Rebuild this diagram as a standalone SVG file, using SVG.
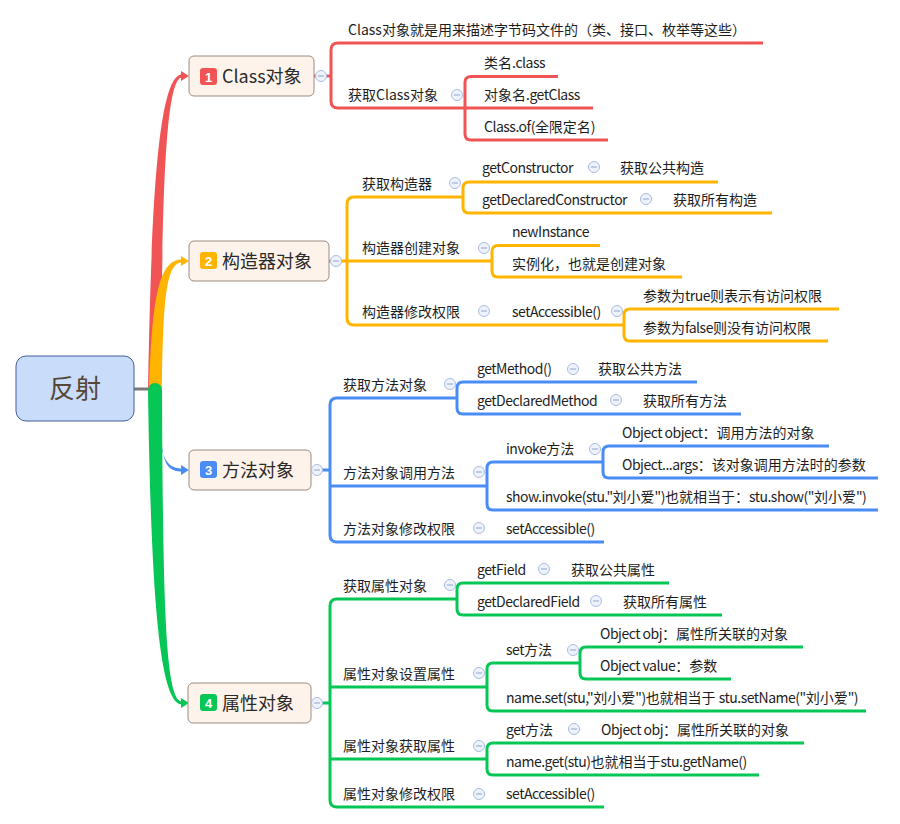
<svg xmlns="http://www.w3.org/2000/svg" width="900" height="824" viewBox="0 0 900 824">
<style>
.t{font-family:"Noto Sans CJK SC","Noto Sans",sans-serif;font-size:14px;fill:#1e1e1e}
.l{letter-spacing:-0.5px}
.h{font-family:"Noto Sans CJK SC","Noto Sans",sans-serif;font-size:18px;fill:#2a2a2a}
.k{font-family:"Liberation Sans","Noto Sans",sans-serif;font-size:13px;font-weight:bold;fill:#fff;text-anchor:middle}
.box{fill:#fdf3ea;stroke:#9a8c82;stroke-width:1}
.ln{fill:none;stroke-width:3}
.red{stroke:#f05454}.org{stroke:#ffb400}.blu{stroke:#4a8cf5}.grn{stroke:#06c755}
.cc circle{fill:#eef2fb;stroke:#aabde3;stroke-width:1}
.cc path{stroke:#8ea3d2;stroke-width:1}
</style>
<defs>
<g id="cl" class="cc"><circle r="5.5"/><path d="M-3,0H3"/></g>
</defs>
<rect width="900" height="824" fill="#ffffff"/>

<g id="connectors">
  <line x1="134" y1="389" x2="156" y2="389" stroke="#7a7a7a" stroke-width="3"/>
  <path fill="#f05454" d="M148,392 C151,220 157,74.5 182,74.5 L182,77.5 C164,77.5 162,220 161,392 Z"/>
  <path fill="#f05454" d="M181,71 L189,76 L181,81 Z"/>
  <path fill="#ffb400" d="M149,392 C152,300 158,259.5 182,259.5 L182,262.5 C166,262.5 163,300 162,392 Z"/>
  <path fill="#ffb400" d="M181,256 L189,261 L181,266 Z"/>
  <path fill="#4a8cf5" d="M155,392 C158,455 165,468.5 182,468.5 L182,471.5 C162,471.5 160,455 161,392 Z"/>
  <path fill="#4a8cf5" d="M181,465 L189,470 L181,475 Z"/>
  <path fill="#06c755" d="M148,390 C151,600 160,704.5 182,704.5 L182,701.5 C165,701.5 163,600 162,390 Z"/>
  <ellipse cx="155" cy="390" rx="7" ry="7" fill="#06c755"/>
  <path fill="#06c755" d="M181,698 L189,703 L181,708 Z"/>

  <path class="ln red" d="M314,76 H331"/>
  <path class="ln red" d="M763,43 H338 Q331,43 331,50 V101 Q331,108 338,108 H465"/>
  <path class="ln red" d="M558,76.5 H471 Q465,76.5 465,82.5 V134 Q465,140 471,140 H608 M465,108 H593"/>

  <path class="ln org" d="M329,261 H492"/>
  <path class="ln org" d="M463,197 H354 Q347,197 347,204 V318 Q347,325 354,325 H624"/>
  <path class="ln org" d="M718,182 H469 Q463,182 463,188 V207 Q463,213 469,213 H772"/>
  <path class="ln org" d="M600,245.5 H498 Q492,245.5 492,251.5 V271 Q492,277 498,277 H682"/>
  <path class="ln org" d="M839,309 H630 Q624,309 624,315 V335 Q624,341 630,341 H828"/>

  <path class="ln blu" d="M311,470 H330 M330,486 H487"/>
  <path class="ln blu" d="M457,398 H337 Q330,398 330,405 V535 Q330,542 337,542 H604"/>
  <path class="ln blu" d="M697,382 H463 Q457,382 457,388 V408 Q457,414 463,414 H741"/>
  <path class="ln blu" d="M603,462 H493 Q487,462 487,468 V504 Q487,510 493,510 H878"/>
  <path class="ln blu" d="M829,446 H609 Q603,446 603,452 V472 Q603,478 609,478 H878"/>

  <path class="ln grn" d="M311,703 H330 M330,687 H487 M330,759 H487"/>
  <path class="ln grn" d="M457,599 H337 Q330,599 330,606 V800 Q330,807 337,807 H604"/>
  <path class="ln grn" d="M669,583 H463 Q457,583 457,589 V609 Q457,615 463,615 H722"/>
  <path class="ln grn" d="M580,663 H493 Q487,663 487,669 V705 Q487,711 493,711 H866"/>
  <path class="ln grn" d="M803,647 H586 Q580,647 580,653 V673 Q580,679 586,679 H731"/>
  <path class="ln grn" d="M804,743 H493 Q487,743 487,749 V769 Q487,775 493,775 H759"/>
</g>

<g id="root">
  <rect x="16" y="356" width="118" height="65" rx="10" fill="#c9dcf9" stroke="#45609a" stroke-width="1"/>
  <text x="75" y="398" text-anchor="middle" style="font-family:'Noto Sans CJK SC',sans-serif;font-size:26px;fill:#554636">反射</text>
</g>

<g id="n1">
  <rect class="box" x="189" y="56" width="125" height="40" rx="5"/>
  <rect x="200" y="68" width="17" height="17" rx="3" fill="#f05454"/>
  <text class="k" x="208.5" y="81.5">1</text>
  <text class="h" x="222" y="82.5">Class对象</text>
  <use href="#cl" x="321" y="76"/>
</g>
<g id="n1-1"><text class="t" x="348" y="35">Class对象就是用来描述字节码文件的（类、接口、枚举等这些）</text></g>
<g id="n1-2"><text class="t" x="348" y="100">获取Class对象</text><use href="#cl" x="457" y="95"/></g>
<g id="n1-2-1"><text class="t" x="484" y="68">类名<tspan class="l">.class</tspan></text></g>
<g id="n1-2-2"><text class="t" x="484" y="100">对象名<tspan class="l">.getClass</tspan></text></g>
<g id="n1-2-3"><text class="t" x="484" y="132"><tspan class="l">Class.of(</tspan>全限定名)</text></g>

<g id="n2">
  <rect class="box" x="189" y="241" width="140" height="40" rx="5"/>
  <rect x="200" y="252" width="17" height="17" rx="3" fill="#ffb400"/>
  <text class="k" x="208.5" y="265.5">2</text>
  <text class="h" x="222" y="267.5">构造器对象</text>
  <use href="#cl" x="336" y="261"/>
</g>
<g id="n2-1"><text class="t" x="362" y="189">获取构造器</text><use href="#cl" x="455" y="183"/></g>
<g id="n2-1-1"><text class="t l" x="482" y="173">getConstructor</text><use href="#cl" x="594" y="167"/></g>
<g id="n2-1-1-1"><text class="t" x="620" y="173">获取公共构造</text></g>
<g id="n2-1-2"><text class="t l" x="482" y="205">getDeclaredConstructor</text><use href="#cl" x="646" y="199"/></g>
<g id="n2-1-2-1"><text class="t" x="673" y="205">获取所有构造</text></g>
<g id="n2-2"><text class="t" x="362" y="253">构造器创建对象</text><use href="#cl" x="484" y="248"/></g>
<g id="n2-2-1"><text class="t l" x="512" y="237">newInstance</text></g>
<g id="n2-2-2"><text class="t" x="512" y="269">实例化，也就是创建对象</text></g>
<g id="n2-3"><text class="t" x="362" y="317">构造器修改权限</text><use href="#cl" x="484" y="311"/></g>
<g id="n2-3-1"><text class="t l" x="512" y="317">setAccessible()</text><use href="#cl" x="617" y="311"/></g>
<g id="n2-3-1-1"><text class="t" x="643" y="301">参数为<tspan class="l">true</tspan>则表示有访问权限</text></g>
<g id="n2-3-1-2"><text class="t" x="643" y="333">参数为<tspan class="l">false</tspan>则没有访问权限</text></g>

<g id="n3">
  <rect class="box" x="189" y="450" width="122" height="40" rx="5"/>
  <rect x="200" y="461" width="17" height="17" rx="3" fill="#4a8cf5"/>
  <text class="k" x="208.5" y="474.5">3</text>
  <text class="h" x="222" y="476.5">方法对象</text>
  <use href="#cl" x="317" y="470"/>
</g>
<g id="n3-1"><text class="t" x="343" y="390">获取方法对象</text><use href="#cl" x="450" y="384"/></g>
<g id="n3-1-1"><text class="t l" x="477" y="374">getMethod()</text><use href="#cl" x="573" y="369"/></g>
<g id="n3-1-1-1"><text class="t" x="598" y="374">获取公共方法</text></g>
<g id="n3-1-2"><text class="t l" x="477" y="406">getDeclaredMethod</text><use href="#cl" x="616" y="400"/></g>
<g id="n3-1-2-1"><text class="t" x="643" y="406">获取所有方法</text></g>
<g id="n3-2"><text class="t" x="343" y="478">方法对象调用方法</text><use href="#cl" x="479" y="472"/></g>
<g id="n3-2-1"><text class="t" x="506" y="454"><tspan class="l">invoke</tspan>方法</text><use href="#cl" x="595" y="449"/></g>
<g id="n3-2-1-1"><text class="t" x="622" y="438"><tspan class="l">Object object</tspan>：调用方法的对象</text></g>
<g id="n3-2-1-2"><text class="t" x="622" y="470"><tspan class="l">Object...args</tspan>：该对象调用方法时的参数</text></g>
<g id="n3-2-2"><text class="t" x="506" y="502"><tspan class="l">show.invoke(stu."</tspan>刘小爱<tspan class="l">")</tspan>也就相当于：<tspan class="l">stu.show("</tspan>刘小爱<tspan class="l">")</tspan></text></g>
<g id="n3-3"><text class="t" x="343" y="534">方法对象修改权限</text><use href="#cl" x="479" y="528"/></g>
<g id="n3-3-1"><text class="t l" x="506" y="534">setAccessible()</text></g>

<g id="n4">
  <rect class="box" x="188" y="683" width="123" height="40" rx="5"/>
  <rect x="200" y="694" width="17" height="17" rx="3" fill="#06c755"/>
  <text class="k" x="208.5" y="707.5">4</text>
  <text class="h" x="222" y="709.5">属性对象</text>
  <use href="#cl" x="317" y="703"/>
</g>
<g id="n4-1"><text class="t" x="343" y="591">获取属性对象</text><use href="#cl" x="450" y="585"/></g>
<g id="n4-1-1"><text class="t l" x="477" y="575">getField</text><use href="#cl" x="544" y="569"/></g>
<g id="n4-1-1-1"><text class="t" x="571" y="575">获取公共属性</text></g>
<g id="n4-1-2"><text class="t l" x="477" y="607">getDeclaredField</text><use href="#cl" x="596" y="601"/></g>
<g id="n4-1-2-1"><text class="t" x="623" y="607">获取所有属性</text></g>
<g id="n4-2"><text class="t" x="343" y="679">属性对象设置属性</text><use href="#cl" x="479" y="673"/></g>
<g id="n4-2-1"><text class="t" x="506" y="655"><tspan class="l">set</tspan>方法</text><use href="#cl" x="573" y="650"/></g>
<g id="n4-2-1-1"><text class="t" x="600" y="639"><tspan class="l">Object obj</tspan>：属性所关联的对象</text></g>
<g id="n4-2-1-2"><text class="t" x="600" y="671"><tspan class="l">Object value</tspan>：参数</text></g>
<g id="n4-2-2"><text class="t" x="506" y="703"><tspan class="l">name.set(stu,"</tspan>刘小爱<tspan class="l">")</tspan>也就相当于 <tspan class="l">stu.setName("</tspan>刘小爱<tspan class="l">")</tspan></text></g>
<g id="n4-3"><text class="t" x="343" y="751">属性对象获取属性</text><use href="#cl" x="479" y="746"/></g>
<g id="n4-3-1"><text class="t" x="506" y="735"><tspan class="l">get</tspan>方法</text><use href="#cl" x="574" y="729"/></g>
<g id="n4-3-1-1"><text class="t" x="601" y="735"><tspan class="l">Object obj</tspan>：属性所关联的对象</text></g>
<g id="n4-3-2"><text class="t" x="506" y="767"><tspan class="l">name.get(stu)</tspan>也就相当于<tspan class="l">stu.getName()</tspan></text></g>
<g id="n4-4"><text class="t" x="343" y="799">属性对象修改权限</text><use href="#cl" x="479" y="794"/></g>
<g id="n4-4-1"><text class="t l" x="506" y="799">setAccessible()</text></g>
</svg>
